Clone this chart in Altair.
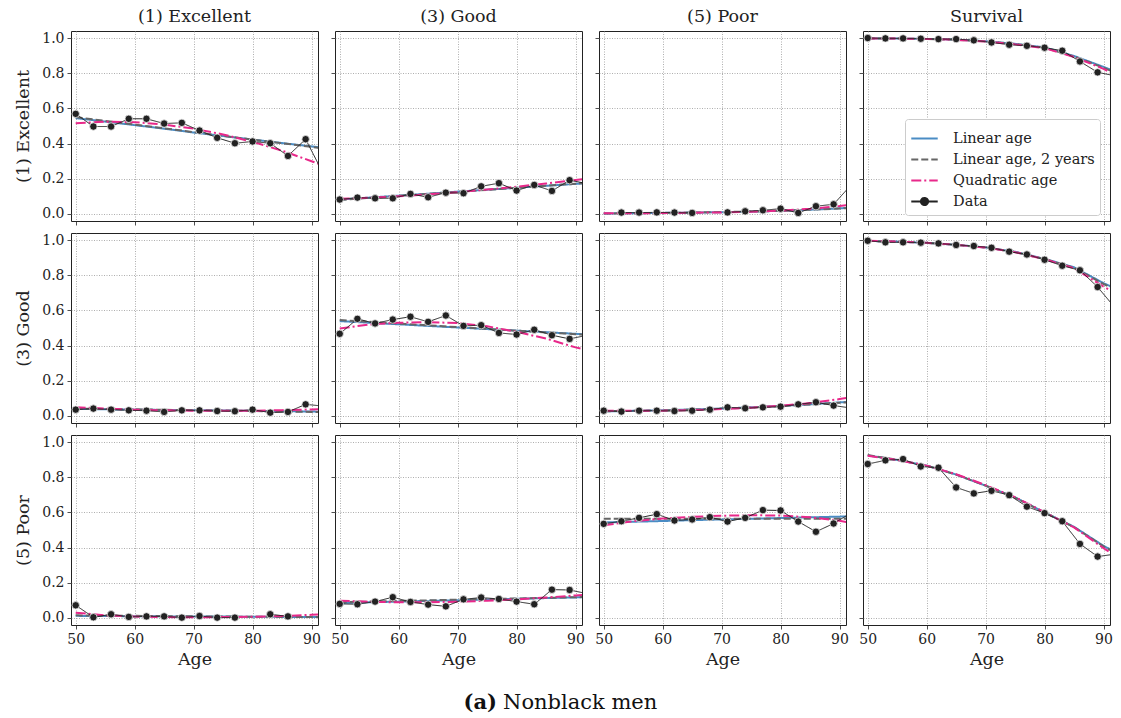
import altair as alt
import pandas as pd

# ---------------- data ----------------
ages = [50, 53, 56, 59, 62, 65, 68, 71, 74, 77, 80, 83, 86, 89, 92]
fit_ages = [50, 55, 60, 65, 70, 75, 80, 85, 90, 92]
row_labels = ["(1) Excellent", "(3) Good", "(5) Poor"]
col_labels = ["(1) Excellent", "(3) Good", "(5) Poor", "Survival"]
series_names = ["Linear age", "Linear age, 2 years", "Quadratic age", "Data"]
x_ticks = [50, 60, 70, 80, 90]
y_ticks = [0.0, 0.2, 0.4, 0.6, 0.8, 1.0]

# start state (1) Excellent
exc_exc_data = [0.569, 0.497, 0.497, 0.541, 0.541, 0.514, 0.518, 0.474, 0.433, 0.402, 0.412, 0.402, 0.330, 0.425, 0.229]
exc_exc_lin = [0.545, 0.525, 0.505, 0.485, 0.463, 0.443, 0.423, 0.403, 0.384, 0.376]
exc_exc_lin2 = [0.550, 0.529, 0.508, 0.487, 0.465, 0.444, 0.423, 0.402, 0.381, 0.372]
exc_exc_quad = [0.515, 0.525, 0.522, 0.508, 0.485, 0.452, 0.410, 0.360, 0.300, 0.275]

exc_good_data = [0.082, 0.093, 0.089, 0.089, 0.114, 0.095, 0.121, 0.118, 0.157, 0.175, 0.133, 0.165, 0.131, 0.192, 0.172]
exc_good_lin = [0.082, 0.093, 0.104, 0.115, 0.127, 0.138, 0.149, 0.160, 0.171, 0.175]
exc_good_lin2 = [0.080, 0.091, 0.103, 0.114, 0.126, 0.137, 0.149, 0.160, 0.172, 0.176]
exc_good_quad = [0.086, 0.092, 0.100, 0.111, 0.124, 0.139, 0.155, 0.173, 0.193, 0.202]

exc_poor_data = [None, 0.008, 0.008, 0.009, 0.008, 0.006, None, 0.009, 0.015, 0.021, 0.030, 0.006, 0.044, 0.055, 0.166]
exc_poor_lin = [0.003, 0.004, 0.006, 0.008, 0.010, 0.013, 0.018, 0.024, 0.032, 0.036]
exc_poor_lin2 = [0.003, 0.004, 0.006, 0.008, 0.011, 0.014, 0.018, 0.024, 0.031, 0.034]
exc_poor_quad = [0.004, 0.004, 0.005, 0.007, 0.009, 0.013, 0.019, 0.029, 0.045, 0.053]

exc_surv_data = [1.000, 0.998, 0.998, 0.996, 0.994, 0.994, 0.987, 0.975, 0.962, 0.956, 0.945, 0.928, 0.867, 0.805, 0.785]
exc_surv_lin = [0.998, 0.997, 0.995, 0.991, 0.982, 0.967, 0.947, 0.898, 0.836, 0.810]
exc_surv_lin2 = [0.998, 0.997, 0.995, 0.990, 0.981, 0.966, 0.945, 0.895, 0.831, 0.803]
exc_surv_quad = [0.998, 0.997, 0.995, 0.990, 0.980, 0.964, 0.943, 0.892, 0.825, 0.790]

# start state (3) Good
good_exc_data = [0.036, 0.042, 0.036, 0.032, 0.030, 0.023, 0.032, 0.032, 0.028, 0.027, 0.036, 0.019, 0.023, 0.066, 0.056]
good_exc_lin = [0.040, 0.038, 0.036, 0.034, 0.033, 0.031, 0.029, 0.027, 0.025, 0.024]
good_exc_lin2 = [0.042, 0.040, 0.038, 0.035, 0.033, 0.031, 0.028, 0.026, 0.023, 0.022]
good_exc_quad = [0.050, 0.042, 0.036, 0.032, 0.030, 0.029, 0.030, 0.033, 0.037, 0.040]

good_good_data = [0.467, 0.552, 0.526, 0.548, 0.564, 0.535, 0.571, 0.512, 0.516, 0.472, 0.463, 0.490, 0.459, 0.438, 0.459]
good_good_lin = [0.539, 0.530, 0.521, 0.512, 0.503, 0.494, 0.485, 0.476, 0.467, 0.463]
good_good_lin2 = [0.545, 0.535, 0.525, 0.515, 0.505, 0.495, 0.485, 0.475, 0.465, 0.461]
good_good_quad = [0.497, 0.520, 0.530, 0.533, 0.528, 0.510, 0.478, 0.440, 0.390, 0.375]

good_poor_data = [0.030, 0.025, 0.030, 0.030, 0.028, 0.030, 0.036, 0.049, 0.044, 0.049, 0.053, 0.066, 0.078, 0.059, 0.045]
good_poor_lin = [0.026, 0.029, 0.032, 0.037, 0.042, 0.049, 0.057, 0.066, 0.077, 0.081]
good_poor_lin2 = [0.027, 0.029, 0.032, 0.036, 0.041, 0.048, 0.056, 0.065, 0.075, 0.079]
good_poor_quad = [0.030, 0.029, 0.030, 0.033, 0.039, 0.047, 0.058, 0.073, 0.096, 0.106]

good_surv_data = [0.996, 0.987, 0.987, 0.985, 0.981, 0.972, 0.966, 0.956, 0.934, 0.918, 0.888, 0.854, 0.828, 0.733, 0.613]
good_surv_lin = [0.995, 0.991, 0.984, 0.973, 0.958, 0.933, 0.893, 0.845, 0.755, 0.725]
good_surv_lin2 = [0.995, 0.991, 0.984, 0.972, 0.957, 0.932, 0.892, 0.843, 0.750, 0.718]
good_surv_quad = [0.996, 0.991, 0.984, 0.973, 0.957, 0.931, 0.891, 0.840, 0.735, 0.700]

# start state (5) Poor
poor_exc_data = [0.072, 0.004, 0.021, 0.006, 0.009, 0.009, 0.002, 0.011, 0.002, 0.002, None, 0.021, 0.009, None, 0.034]
poor_exc_lin = [0.012, 0.011, 0.010, 0.009, 0.009, 0.008, 0.007, 0.006, 0.006, 0.005]
poor_exc_lin2 = [0.015, 0.013, 0.012, 0.010, 0.009, 0.008, 0.007, 0.006, 0.005, 0.005]
poor_exc_quad = [0.030, 0.015, 0.008, 0.005, 0.004, 0.005, 0.007, 0.011, 0.018, 0.022]

poor_good_data = [0.080, 0.078, 0.093, 0.118, 0.091, 0.076, 0.066, 0.106, 0.116, 0.108, 0.093, 0.078, 0.161, 0.159, 0.138]
poor_good_lin = [0.085, 0.089, 0.093, 0.097, 0.101, 0.105, 0.109, 0.113, 0.117, 0.118]
poor_good_lin2 = [0.090, 0.093, 0.097, 0.100, 0.104, 0.107, 0.111, 0.114, 0.118, 0.119]
poor_good_quad = [0.098, 0.092, 0.089, 0.089, 0.092, 0.098, 0.106, 0.116, 0.128, 0.133]

poor_poor_data = [0.535, 0.550, 0.569, 0.590, 0.554, 0.560, 0.573, 0.548, 0.569, 0.613, 0.611, 0.548, 0.490, 0.537, 0.598]
poor_poor_lin = [0.543, 0.547, 0.551, 0.556, 0.560, 0.564, 0.568, 0.572, 0.576, 0.578]
poor_poor_lin2 = [0.564, 0.564, 0.564, 0.564, 0.564, 0.564, 0.564, 0.564, 0.564, 0.564]
poor_poor_quad = [0.527, 0.550, 0.565, 0.575, 0.581, 0.584, 0.582, 0.572, 0.553, 0.540]

poor_surv_data = [0.875, 0.896, 0.903, 0.861, 0.854, 0.742, 0.708, 0.723, 0.698, 0.633, 0.596, 0.550, 0.421, 0.349, 0.363]
poor_surv_lin = [0.924, 0.898, 0.866, 0.815, 0.752, 0.685, 0.600, 0.518, 0.410, 0.375]
poor_surv_lin2 = [0.926, 0.899, 0.866, 0.815, 0.752, 0.684, 0.599, 0.516, 0.407, 0.370]
poor_surv_quad = [0.922, 0.898, 0.866, 0.817, 0.755, 0.687, 0.601, 0.515, 0.397, 0.355]

panels_data = [
    [(exc_exc_data, exc_exc_lin, exc_exc_lin2, exc_exc_quad),
     (exc_good_data, exc_good_lin, exc_good_lin2, exc_good_quad),
     (exc_poor_data, exc_poor_lin, exc_poor_lin2, exc_poor_quad),
     (exc_surv_data, exc_surv_lin, exc_surv_lin2, exc_surv_quad)],
    [(good_exc_data, good_exc_lin, good_exc_lin2, good_exc_quad),
     (good_good_data, good_good_lin, good_good_lin2, good_good_quad),
     (good_poor_data, good_poor_lin, good_poor_lin2, good_poor_quad),
     (good_surv_data, good_surv_lin, good_surv_lin2, good_surv_quad)],
    [(poor_exc_data, poor_exc_lin, poor_exc_lin2, poor_exc_quad),
     (poor_good_data, poor_good_lin, poor_good_lin2, poor_good_quad),
     (poor_poor_data, poor_poor_lin, poor_poor_lin2, poor_poor_quad),
     (poor_surv_data, poor_surv_lin, poor_surv_lin2, poor_surv_quad)],
]

# ---------------- styling ----------------
FONT = "DejaVu Serif"
PW, PH = 247, 190
x_dom = [49.2, 91.1]
y_dom = [-0.04, 1.04]

color_scale = alt.Scale(domain=series_names, range=["#4a8cc4", "#666666", "#e8288a", "#222222"])
dash_scale = alt.Scale(domain=series_names, range=[[1, 0], [7, 3], [10, 3, 2, 3], [1, 0]])
data_shape = "M-1,0H1M-0.27,0A0.27,0.27,0,1,1,0.27,0A0.27,0.27,0,1,1,-0.27,0"
shape_scale = alt.Scale(domain=series_names, range=["stroke", "stroke", "stroke", data_shape])


def make_legend():
    return alt.Legend(
        title=None,
        orient="none",
        legendX=42,
        legendY=88,
        fillColor="white",
        strokeColor="#cccccc",
        cornerRadius=3,
        padding=5,
        symbolType="stroke",
        symbolSize=700,
        symbolStrokeWidth=2,
        labelFont=FONT,
        labelFontSize=14.5,
        labelColor="#222222",
        labelOffset=14,
        rowPadding=0,
    )


def panel(r, c):
    obs, lin, lin2, quad = panels_data[r][c]
    left = c == 0
    bottom = r == 2
    fits = []
    for name, vals in zip(series_names[:3], [lin, lin2, quad]):
        fits.append(pd.DataFrame({"Age": fit_ages, "p": vals, "series": name}))
    obs_df = pd.DataFrame({"Age": ages, "p": obs, "series": "Data"})

    x = alt.X("Age:Q", scale=alt.Scale(domain=x_dom, nice=False, zero=False),
              axis=alt.Axis(values=x_ticks, labels=bottom, format="d",
                            title="Age" if bottom else None, titlePadding=4))
    y = alt.Y("p:Q", scale=alt.Scale(domain=y_dom, nice=False, zero=False),
              axis=alt.Axis(values=y_ticks, labels=left, format=".1f",
                            title=row_labels[r] if left else None, titlePadding=9))
    has_leg = (r == 0 and c == 3)
    leg = make_legend() if has_leg else None

    layers = []
    for df in fits + [obs_df]:
        width = 1 if df["series"].iloc[0] == "Data" else 2
        layers.append(
            alt.Chart(df).mark_line(clip=True, strokeWidth=width).encode(
                x=x, y=y,
                color=alt.Color("series:N", scale=color_scale, legend=leg),
                strokeDash=alt.StrokeDash("series:N", scale=dash_scale, legend=leg),
            )
        )
    layers.append(
        alt.Chart(obs_df).mark_circle(clip=True, size=55, color="#222222", opacity=1,
                                      stroke="#e6e6e6", strokeWidth=0.8).encode(x=x, y=y)
    )
    if has_leg:
        # legend-only layer (draws nothing) so the Data entry carries a marker
        layers.append(
            alt.Chart(obs_df).transform_filter("false").mark_point(filled=True, opacity=1).encode(
                x=x, y=y,
                color=alt.Color("series:N", scale=color_scale, legend=leg),
                shape=alt.Shape("series:N", scale=shape_scale, legend=leg),
            )
        )
    if r == 2 and c == 1:
        cap = pd.DataFrame({"a": ["(a)"], "b": ["Nonblack men"]})
        layers.append(alt.Chart(cap).mark_text(font=FONT, fontSize=21, fontWeight="bold",
                                               align="right", baseline="alphabetic",
                                               color="#111111").encode(
            x=alt.value(162), y=alt.value(274), text="a:N"))
        layers.append(alt.Chart(cap).mark_text(font=FONT, fontSize=21, fontWeight="normal",
                                               align="left", baseline="alphabetic",
                                               color="#111111").encode(
            x=alt.value(168), y=alt.value(274), text="b:N"))
    ch = alt.layer(*layers).properties(width=PW, height=PH)
    if r == 0:
        ch = ch.properties(title=alt.TitleParams(col_labels[c], anchor="middle"))
    return ch


panels = [panel(r, c) for r in range(3) for c in range(4)]

chart = (
    alt.concat(*panels, columns=4, spacing=alt.RowColnumber(row=12, column=17))
    .properties(bounds="flush", padding={"left": 14, "top": 7, "right": 3, "bottom": 5})
    .resolve_scale(color="independent", strokeDash="independent", shape="independent")
    .resolve_legend(color="independent", strokeDash="independent", shape="independent")
    .configure_view(stroke="#222222", strokeWidth=1)
    .configure_axis(
        labelFont=FONT, labelFontSize=14, labelColor="#222222",
        titleFont=FONT, titleFontSize=17.5, titleFontWeight="normal", titleColor="#222222",
        tickColor="#222222", tickSize=4, tickWidth=0.8, labelPadding=3,
        domain=False, grid=True, gridColor="#999999", gridDash=[1, 1.5], gridWidth=0.8,
    )
    .configure_title(font=FONT, fontSize=17.5, fontWeight="normal", color="#222222", offset=6)
)

chart.save("out.html", embed_options={"renderer": "svg", "actions": False})
